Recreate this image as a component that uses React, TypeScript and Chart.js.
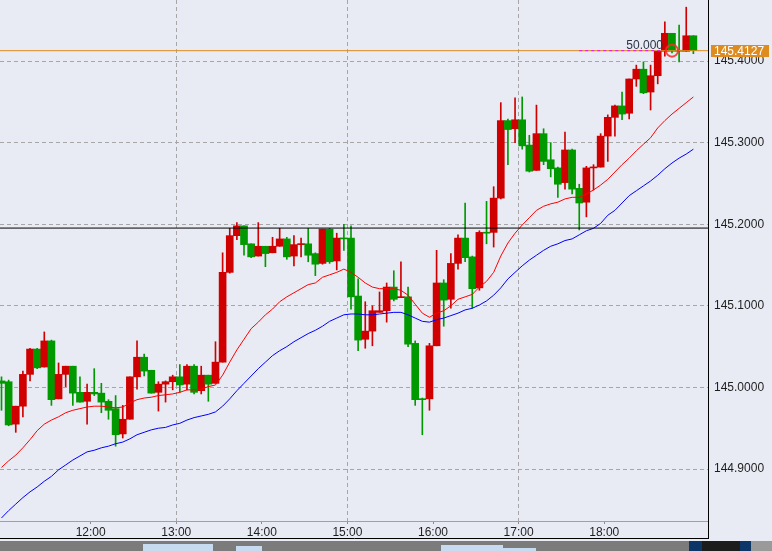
import { useEffect, useRef } from 'react';
import { Chart, registerables } from 'chart.js';

Chart.register(...registerables);

// 5-minute candles, 10:55 .. 19:00
const opens = [
  145.008, 145.007, 144.955, 144.977, 145.016, 145.047, 145.025, 145.057, 144.986, 145.016,
  145.026, 144.994, 144.983, 144.994, 144.993, 144.983, 144.974, 144.943, 144.961, 145.013,
  145.037, 145.021, 144.994, 145.004, 145.007, 145.013, 145.004, 145.026, 144.996, 145.015,
  145.005, 145.031, 145.141, 145.186, 145.198, 145.176, 145.161, 145.173, 145.165, 145.173,
  145.182, 145.161, 145.175, 145.176, 145.164, 145.152, 145.194, 145.155, 145.183, 145.183,
  145.112, 145.059, 145.069, 145.092, 145.094, 145.123, 145.110, 145.111, 145.054, 144.986,
  144.986, 145.051, 145.128, 145.108, 145.152, 145.183, 145.160, 145.122, 145.190, 145.190,
  145.232, 145.327, 145.317, 145.328, 145.297, 145.266, 145.311, 145.279, 145.269, 145.251,
  145.291, 145.244, 145.227, 145.269, 145.270, 145.308, 145.331, 145.345, 145.336, 145.378,
  145.390, 145.362, 145.382, 145.412, 145.434, 145.413, 145.412, 145.431,
];
const highs = [
  145.013, 145.009, 144.977, 145.020, 145.048, 145.048, 145.068, 145.058, 145.030, 145.026,
  145.026, 145.013, 145.004, 145.023, 145.005, 144.985, 144.990, 144.978, 145.013, 145.057,
  145.041, 145.021, 145.007, 145.008, 145.015, 145.028, 145.028, 145.028, 145.026, 145.015,
  145.056, 145.165, 145.195, 145.202, 145.198, 145.176, 145.202, 145.173, 145.184, 145.195,
  145.184, 145.186, 145.183, 145.195, 145.165, 145.194, 145.195, 145.189, 145.200, 145.198,
  145.133, 145.105, 145.100, 145.117, 145.128, 145.143, 145.154, 145.123, 145.057, 144.987,
  145.054, 145.168, 145.132, 145.164, 145.187, 145.226, 145.161, 145.192, 145.228, 145.246,
  145.349, 145.329, 145.355, 145.356, 145.309, 145.346, 145.317, 145.300, 145.270, 145.313,
  145.292, 145.249, 145.271, 145.273, 145.311, 145.334, 145.346, 145.362, 145.378, 145.395,
  145.399, 145.395, 145.412, 145.448, 145.434, 145.444, 145.466, 145.431,
];
const lows = [
  144.972, 144.953, 144.945, 144.964, 145.008, 145.023, 145.025, 144.978, 144.986, 145.001,
  144.978, 144.982, 144.955, 144.990, 144.969, 144.961, 144.928, 144.938, 144.961, 144.998,
  145.014, 144.993, 144.971, 144.982, 144.997, 144.994, 144.997, 144.992, 144.992, 144.983,
  145.005, 145.031, 145.140, 145.181, 145.162, 145.159, 145.161, 145.148, 145.165, 145.173,
  145.157, 145.149, 145.160, 145.154, 145.137, 145.151, 145.152, 145.144, 145.168, 145.096,
  145.045, 145.048, 145.051, 145.092, 145.080, 145.106, 145.110, 145.050, 144.978, 144.942,
  144.972, 145.051, 145.075, 145.097, 145.145, 145.154, 145.097, 145.119, 145.176, 145.172,
  145.231, 145.273, 145.300, 145.292, 145.264, 145.266, 145.273, 145.258, 145.233, 145.243,
  145.237, 145.193, 145.209, 145.242, 145.270, 145.277, 145.308, 145.328, 145.329, 145.369,
  145.360, 145.340, 145.372, 145.406, 145.410, 145.399, 145.412, 145.409,
];
const closes = [
  145.005, 144.954, 144.977, 145.016, 145.047, 145.024, 145.057, 144.985, 145.016, 145.026,
  144.993, 144.982, 144.994, 144.992, 144.982, 144.972, 144.942, 144.961, 145.013, 145.037,
  145.020, 144.993, 145.004, 145.007, 145.013, 145.003, 145.026, 144.994, 145.015, 145.004,
  145.031, 145.141, 145.186, 145.198, 145.175, 145.160, 145.173, 145.164, 145.173, 145.182,
  145.160, 145.175, 145.176, 145.162, 145.151, 145.194, 145.154, 145.183, 145.182, 145.111,
  145.058, 145.069, 145.094, 145.094, 145.123, 145.108, 145.111, 145.053, 144.985, 144.985,
  145.051, 145.128, 145.107, 145.152, 145.183, 145.159, 145.121, 145.190, 145.189, 145.232,
  145.327, 145.316, 145.328, 145.296, 145.265, 145.311, 145.277, 145.268, 145.249, 145.291,
  145.243, 145.226, 145.269, 145.270, 145.308, 145.331, 145.345, 145.335, 145.378, 145.390,
  145.361, 145.382, 145.412, 145.434, 145.412, 145.412, 145.431, 145.4127,
];
const maFast = [
  144.902, 144.910, 144.917, 144.926, 144.936, 144.947, 144.955, 144.960, 144.964, 144.969,
  144.972, 144.974, 144.976, 144.977, 144.977, 144.976, 144.975, 144.976, 144.981, 144.985,
  144.987, 144.988, 144.990, 144.991, 144.992, 144.994, 144.997, 144.997, 144.998, 145.001,
  145.003, 145.015, 145.031, 145.046, 145.059, 145.072, 145.080, 145.089, 145.096, 145.105,
  145.111, 145.116, 145.121, 145.126, 145.128, 145.135, 145.138, 145.141, 145.145, 145.141,
  145.135, 145.128, 145.123, 145.121, 145.121, 145.121, 145.119, 145.113, 145.102, 145.091,
  145.086, 145.091, 145.094, 145.100, 145.108, 145.111, 145.114, 145.123, 145.130, 145.141,
  145.161, 145.177, 145.189, 145.199, 145.208, 145.217, 145.222, 145.225, 145.227, 145.231,
  145.233, 145.233, 145.237, 145.242, 145.248, 145.255, 145.264, 145.273, 145.281, 145.290,
  145.298, 145.306, 145.318, 145.327, 145.335, 145.342, 145.349, 145.356,
];
const maSlow = [
  144.840, 144.849, 144.857, 144.865, 144.872, 144.878, 144.885, 144.891, 144.899, 144.905,
  144.911, 144.916, 144.921, 144.923, 144.926, 144.928, 144.931, 144.933, 144.937, 144.942,
  144.945, 144.948, 144.950, 144.951, 144.954, 144.956, 144.960, 144.963, 144.965, 144.967,
  144.970, 144.977, 144.986, 144.996, 145.005, 145.014, 145.023, 145.031, 145.039, 145.045,
  145.050, 145.056, 145.061, 145.066, 145.070, 145.075, 145.081, 145.085, 145.089, 145.090,
  145.090, 145.089, 145.089, 145.090, 145.091, 145.092, 145.092, 145.089, 145.085, 145.081,
  145.080, 145.083, 145.085, 145.088, 145.091, 145.095, 145.097, 145.101, 145.106, 145.113,
  145.122, 145.133, 145.141, 145.149, 145.156, 145.162, 145.168, 145.173, 145.176, 145.180,
  145.182, 145.187, 145.192, 145.195, 145.201, 145.211, 145.217, 145.226, 145.235, 145.241,
  145.247, 145.253, 145.260, 145.268, 145.275, 145.281, 145.286, 145.292,
];

const hourTickPositions = [12.5, 24.5, 36.5, 48.5, 60.5, 72.5, 84.5];
const hourLabels = ['12:00', '13:00', '14:00', '15:00', '16:00', '17:00', '18:00'];
const gridHourPositions = [24.5, 48.5, 72.5];
const priceTicks = [144.9, 145.0, 145.1, 145.2, 145.3, 145.4];

const lastPrice = 145.4127;
const levelPrice = 145.1953;
const fibText = '50.000';
const fibStart = 81;
const fibEnd = 92.74;
const alertIndex = 94;

const xMin = -0.21;
const xMax = 99.05;
const yMin = 144.8363;
const yMax = 145.4748;

const BULL = '#d00000';
const BEAR = '#009a00';
const BG = '#e8ebf4';

const candleColors = closes.map((c, i) => (c >= opens[i] ? BULL : BEAR));

const framePlugin = {
  id: 'frame',
  beforeDraw(chart: any) {
    const ctx = chart.ctx;
    ctx.save();
    ctx.fillStyle = BG;
    ctx.fillRect(0, 0, chart.width, chart.height);
    ctx.restore();
  },
  afterDatasetsDraw(chart: any) {
    const ctx = chart.ctx;
    const xs = chart.scales.x;
    const ys = chart.scales.y;
    ctx.save();
    ctx.font = '12px "Liberation Sans", Arial, sans-serif';
    ctx.fillStyle = '#2a3344';
    ctx.textAlign = 'right';
    ctx.textBaseline = 'alphabetic';
    ctx.fillText(fibText, xs.getPixelForValue(fibEnd), ys.getPixelForValue(lastPrice) - 2);
    ctx.restore();
  },
  afterDraw(chart: any) {
    const ctx = chart.ctx;
    const area = chart.chartArea;
    const ys = chart.scales.y;
    const W = chart.width;
    ctx.save();
    ctx.strokeStyle = '#000';
    ctx.lineWidth = 1;
    ctx.beginPath();
    ctx.moveTo(Math.round(area.right) + 0.5, 0);
    ctx.lineTo(Math.round(area.right) + 0.5, 538);
    ctx.moveTo(0, 538.5);
    ctx.lineTo(Math.round(area.right) + 1, 538.5);
    ctx.stroke();
    ctx.fillStyle = '#7b7b7b';
    ctx.fillRect(0, 541, W, 10);
    ctx.fillStyle = '#c6daf0';
    ctx.fillRect(143, 544, 70, 7);
    ctx.fillRect(236, 546, 26, 5);
    ctx.fillRect(441, 545, 62, 6);
    ctx.fillRect(503, 548, 33, 3);
    ctx.fillStyle = '#0c3668';
    ctx.fillRect(689, 541, 13, 10);
    ctx.fillRect(740, 541, 11, 10);
    ctx.fillStyle = '#1c1c1c';
    ctx.fillRect(702, 541, 38, 10);
    ctx.fillStyle = '#9a9a9a';
    ctx.fillRect(751, 541, 21, 10);
    const py = ys.getPixelForValue(lastPrice);
    ctx.fillStyle = '#de8c1f';
    ctx.fillRect(Math.round(area.right) + 3, Math.round(py) - 6, 58, 12);
    ctx.fillStyle = '#ffffff';
    ctx.font = '12px "Liberation Sans", Arial, sans-serif';
    ctx.textAlign = 'left';
    ctx.textBaseline = 'middle';
    ctx.fillText(lastPrice.toFixed(4), Math.round(area.right) + 6, Math.round(py) + 0.5);
    ctx.restore();
  },
};

export default function App() {
  const ref = useRef<HTMLCanvasElement>(null);

  useEffect(() => {
    const canvas = ref.current;
    if (!canvas) return;
    Chart.defaults.font.family = '"Liberation Sans", Arial, sans-serif';
    Chart.defaults.font.size = 12;

    const idx = opens.map((_, i) => i);

    const chart = new Chart(canvas, {
      type: 'bar',
      data: {
        datasets: [
          {
            type: 'line',
            label: 'alert',
            data: [{ x: alertIndex, y: lastPrice }],
            showLine: false,
            pointRadius: 6,
            pointBorderWidth: 2,
            pointBorderColor: 'rgba(255,40,40,0.85)',
            pointBackgroundColor: 'rgba(0,0,0,0)',
            order: 0,
          } as any,
          {
            type: 'line',
            label: 'fib',
            data: [{ x: fibStart, y: lastPrice }, { x: fibEnd, y: lastPrice }],
            borderColor: '#ff00ff',
            borderWidth: 1,
            borderDash: [3, 3],
            pointRadius: 0,
            order: 1,
          } as any,
          {
            type: 'line',
            label: 'bid',
            data: [{ x: xMin, y: lastPrice }, { x: xMax, y: lastPrice }],
            borderColor: '#de8c1f',
            borderWidth: 1,
            pointRadius: 0,
            order: 2,
          } as any,
          {
            type: 'line',
            label: 'level',
            data: [{ x: xMin, y: levelPrice }, { x: xMax, y: levelPrice }],
            borderColor: '#000000',
            borderWidth: 1,
            pointRadius: 0,
            order: 3,
          } as any,
          {
            type: 'line',
            label: 'MA fast',
            data: idx.map((i) => ({ x: i, y: maFast[i] })),
            borderColor: '#ff0000',
            borderWidth: 1,
            pointRadius: 0,
            tension: 0,
            order: 4,
          } as any,
          {
            type: 'line',
            label: 'MA slow',
            data: idx.map((i) => ({ x: i, y: maSlow[i] })),
            borderColor: '#0000ff',
            borderWidth: 1,
            pointRadius: 0,
            tension: 0,
            order: 5,
          } as any,
          {
            type: 'bar',
            label: 'body',
            data: idx.map((i) => ({ x: i, y: [opens[i], closes[i]] })),
            backgroundColor: candleColors,
            borderWidth: 0,
            barThickness: 7,
            minBarLength: 1,
            grouped: false,
            order: 6,
          } as any,
          {
            type: 'bar',
            label: 'wick',
            data: idx.map((i) => ({ x: i, y: [lows[i], highs[i]] })),
            backgroundColor: candleColors,
            borderWidth: 0,
            barThickness: 1,
            minBarLength: 1,
            grouped: false,
            order: 7,
          } as any,
        ],
      },
      options: {
        responsive: false,
        animation: false,
        devicePixelRatio: 1,
        layout: { padding: 0, autoPadding: false },
        plugins: {
          legend: { display: false },
          tooltip: { enabled: false },
        },
        scales: {
          x: {
            type: 'linear',
            min: xMin,
            max: xMax,
            offset: false,
            bounds: 'data',
            afterFit: (s: any) => {
              s.height = 30;
              s.paddingLeft = 0;
              s.paddingRight = 0;
              s.paddingTop = 0;
              s.paddingBottom = 0;
            },
            afterBuildTicks: (s: any) => {
              s.ticks = hourTickPositions.map((v) => ({ value: v }));
            },
            ticks: {
              autoSkip: false,
              maxRotation: 0,
              padding: 1,
              color: '#1e1e1e',
              font: { size: 12 },
              callback: (_v: any, i: number) => hourLabels[i],
            },
            grid: {
              offset: false,
              color: (c: any) =>
                c.tick && gridHourPositions.includes(c.tick.value) ? '#a6a6a6' : 'rgba(0,0,0,0)',
              tickColor: '#8c8c8c',
              tickLength: 3,
              lineWidth: 1,
            },
            border: { color: '#a0a0a0', dash: [4, 3] },
          },
          y: {
            type: 'linear',
            position: 'right',
            min: yMin,
            max: yMax,
            bounds: 'data',
            afterFit: (s: any) => {
              s.width = 64;
              s.paddingTop = 0;
              s.paddingBottom = 0;
              s.paddingLeft = 0;
              s.paddingRight = 0;
            },
            afterBuildTicks: (s: any) => {
              s.ticks = priceTicks.map((v) => ({ value: v }));
            },
            ticks: {
              padding: 6,
              color: '#1e1e1e',
              font: { size: 12 },
              callback: (v: any) => Number(v).toFixed(4),
            },
            grid: {
              color: '#a6a6a6',
              drawTicks: false,
              lineWidth: 1,
            },
            border: { color: '#000000', dash: [4, 3] },
          },
        },
      } as any,
      plugins: [framePlugin],
    });

    return () => chart.destroy();
  }, []);

  return (
    <div
      style={{
        position: 'fixed',
        left: 0,
        top: 0,
        width: 772,
        height: 551,
        background: BG,
      }}
    >
      <canvas ref={ref} width={772} height={551} style={{ display: 'block', width: 772, height: 551 }} />
    </div>
  );
}
